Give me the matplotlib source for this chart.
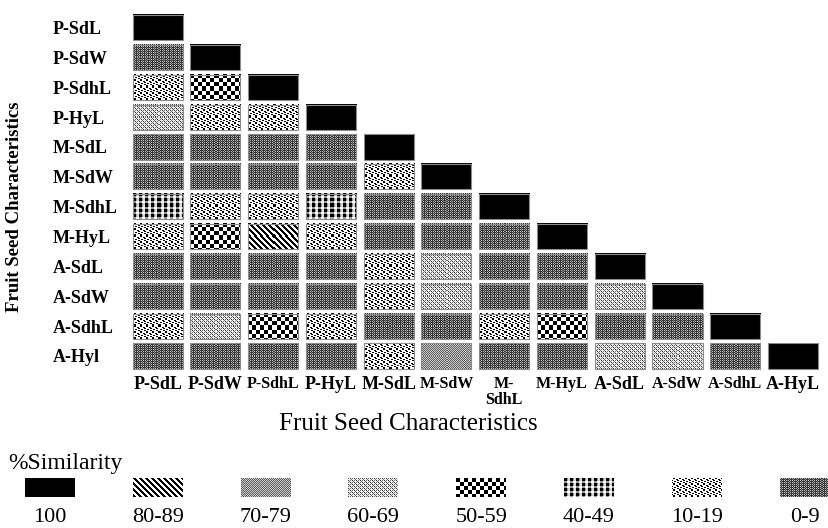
import numpy as np
import matplotlib
matplotlib.use("Agg")
import matplotlib.pyplot as plt
from matplotlib.patches import Rectangle

plt.rcParams["font.family"] = ["Liberation Serif", "DejaVu Serif"]

# ---------------------------------------------------------------- data
row_labels = ["P-SdL", "P-SdW", "P-SdhL", "P-HyL", "M-SdL", "M-SdW",
              "M-SdhL", "M-HyL", "A-SdL", "A-SdW", "A-SdhL", "A-Hyl"]
col_labels = ["P-SdL", "P-SdW", "P-SdhL", "P-HyL", "M-SdL", "M-SdW",
              "M-\nSdhL", "M-HyL", "A-SdL", "A-SdW", "A-SdhL", "A-HyL"]
small_col_labels = {"P-SdhL", "M-SdW", "M-\nSdhL", "M-HyL", "A-SdW", "A-SdhL"}

# % similarity class of each pair (lower triangle, row by row)
similarity_class = [
    ["100"],
    ["0-9", "100"],
    ["10-19", "50-59", "100"],
    ["60-69", "10-19", "10-19", "100"],
    ["0-9", "0-9", "0-9", "0-9", "100"],
    ["0-9", "0-9", "0-9", "0-9", "10-19", "100"],
    ["40-49", "10-19", "10-19", "40-49", "0-9", "0-9", "100"],
    ["10-19", "50-59", "80-89", "10-19", "0-9", "0-9", "0-9", "100"],
    ["0-9", "0-9", "0-9", "0-9", "10-19", "60-69", "0-9", "0-9", "100"],
    ["0-9", "0-9", "0-9", "0-9", "10-19", "60-69", "0-9", "0-9", "60-69", "100"],
    ["10-19", "60-69", "50-59", "10-19", "0-9", "0-9", "10-19", "50-59", "0-9", "0-9", "100"],
    ["0-9", "0-9", "0-9", "0-9", "10-19", "70-79", "0-9", "0-9", "60-69", "60-69", "0-9", "100"],
]

legend_classes = ["100", "80-89", "70-79", "60-69", "50-59", "40-49", "10-19", "0-9"]

# ---------------------------------------------------------------- fill patterns
DOT_TILE = np.array([
    [1, 0, 0, 1, 1, 1],
    [1, 1, 1, 1, 0, 0],
    [0, 1, 1, 1, 1, 0],
    [1, 1, 0, 0, 1, 1],
    [0, 1, 1, 1, 1, 0],
    [1, 0, 0, 1, 1, 1],
], dtype=float)


def pattern(cat, h, w):
    yy, xx = np.mgrid[0:h, 0:w]
    if cat == "100":
        return np.zeros((h, w))
    if cat == "80-89":
        return np.where(((xx - yy) % 6) < 3, 0.0, 1.0)
    if cat == "70-79":
        return np.where((xx + yy) % 2 == 0, 0.38, 0.78)
    if cat == "60-69":
        img = np.full((h, w), 0.92)
        img[((xx + yy) % 4) == 0] = 0.45
        img[((xx + yy) % 4 == 2) & (yy % 2 == 0)] = 0.2
        return img
    if cat == "50-59":
        return ((xx // 4 + yy // 4) % 2).astype(float)
    if cat == "40-49":
        img = np.full((h, w), 0.6)
        img[(xx % 6 < 3) & (yy % 5 < 3)] = 0.0
        img[(xx % 6 >= 3) & (yy % 5 >= 3)] = 1.0
        img[(xx % 6 >= 4) & (yy % 5 < 3)] = 0.85
        return img
    if cat == "10-19":
        return DOT_TILE[yy % 6, xx % 6]
    # 0-9
    img = np.full((h, w), 0.22)
    img[(xx % 2 == 0) & (yy % 2 == 0)] = 0.72
    img[(xx % 4 == 1) & (yy % 2 == 1)] = 0.5
    return img


# ---------------------------------------------------------------- figure
W, H = 829, 528
fig = plt.figure(figsize=(W / 100, H / 100), dpi=100)

ax_l, ax_r, ax_t, ax_b = 128.8, 821.9, 12.6, 370.9
ax = fig.add_axes([ax_l / W, 1 - ax_b / H, (ax_r - ax_l) / W, (ax_b - ax_t) / H])

HW, HH = 0.433, 0.42
pw = int(round(2 * HW * (ax_r - ax_l) / 12))
ph = int(round(2 * HH * (ax_b - ax_t) / 12))

for r, row in enumerate(similarity_class):
    for c, cat in enumerate(row):
        ax.imshow(pattern(cat, ph, pw), cmap="gray", vmin=0, vmax=1,
                  interpolation="nearest", origin="upper", aspect="auto",
                  extent=(c - HW, c + HW, r + HH, r - HH), zorder=1)
        ax.add_patch(Rectangle((c - HW, r - HH), 2 * HW, 2 * HH, fill=False,
                               ec="#8c8c8c", lw=0.8, zorder=2))

ax.set_xlim(-0.5, 11.5)
ax.set_ylim(11.5, -0.5)
for s in ax.spines.values():
    s.set_visible(False)

ax.set_xticks(range(len(col_labels)))
ax.set_xticklabels(col_labels, fontweight="bold")
for lbl, name in zip(ax.get_xticklabels(), col_labels):
    lbl.set_fontsize(11.5 if name in small_col_labels else 13)
    lbl.set_linespacing(1.0)
ax.set_yticks(range(len(row_labels)))
ax.set_yticklabels(row_labels, fontweight="bold", fontsize=13)
for lbl in ax.get_yticklabels():
    lbl.set_ha("left")
ax.tick_params(axis="x", length=0, pad=4)
ax.tick_params(axis="y", length=0, pad=(ax_l - 53) * 0.72)

fig.text(408.5 / W, 1 - 424 / H, "Fruit Seed Characteristics",
         ha="center", va="center", fontsize=18)
fig.text(15 / W, 1 - 207 / H, "Fruit Seed Characteristics", rotation=90,
         ha="center", va="center", fontsize=13.5, fontweight="bold")

# ---------------------------------------------------------------- legend
lax = fig.add_axes([0, 0, 1, 1])
lax.set_xlim(0, W)
lax.set_ylim(H, 0)
lax.axis("off")

lax.text(8, 463, "%Similarity", ha="left", va="center", fontsize=17)
sw_w, sw_top, sw_bot = 50, 478, 497
for i, cat in enumerate(legend_classes):
    cx = 50 + i * 107.8
    lax.imshow(pattern(cat, sw_bot - sw_top, sw_w), cmap="gray", vmin=0, vmax=1,
               interpolation="nearest", origin="upper", aspect="auto",
               extent=(cx - sw_w / 2, cx + sw_w / 2, sw_bot, sw_top))
    lax.text(cx, 518, cat, ha="center", va="center", fontsize=16)
lax.set_xlim(0, W)
lax.set_ylim(H, 0)

fig.savefig("out.png", dpi=100)
